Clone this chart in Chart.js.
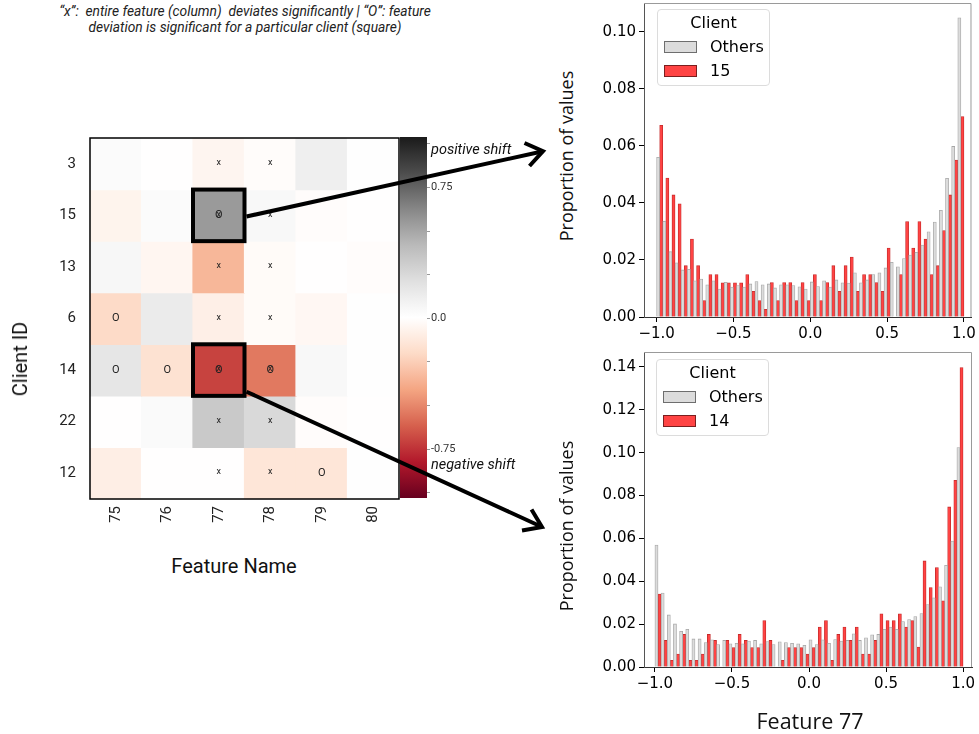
<!DOCTYPE html>
<html>
<head>
<meta charset="utf-8">
<script src="https://cdn.jsdelivr.net/npm/chart.js@4.4.1/dist/chart.umd.min.js"></script>
<style>
html,body{margin:0;padding:0;background:#fff;}
body{position:relative;width:979px;height:734px;overflow:hidden;}
canvas{position:absolute;display:block;}
.t{position:absolute;white-space:pre;color:#111;}
.rot{transform:translate(-50%,-50%) rotate(-90deg);}
.ctr{transform:translate(-50%,-50%);}
.legend{position:absolute;border:1px solid #dcdcdc;border-radius:4px;background:rgba(255,255,255,0.85);font-family:'DejaVu Sans';font-size:16px;color:#000;z-index:3;box-sizing:border-box;width:113px;height:77px;}
.legend .ttl{position:absolute;left:0;width:100%;text-align:center;line-height:18px;top:4px;}
.legend .sw{position:absolute;left:6px;width:33px;height:12px;box-sizing:border-box;}
.legend .lab{position:absolute;left:52px;line-height:18px;}
svg{position:absolute;left:0;top:0;z-index:5;pointer-events:none;}
</style>
</head>
<body>
<div class="t" style="left:0;top:3px;width:490px;text-align:center;font:italic 13.8px Roboto;line-height:16px;color:#222;">“x”:  entire feature (column)  deviates significantly | “O”: feature
deviation is significant for a particular client (square)</div>

<canvas id="heat" width="400" height="540" style="left:0;top:0;"></canvas>
<canvas id="cbar" width="60" height="510" style="left:400px;top:0;"></canvas>
<canvas id="histTop" width="399" height="354" style="left:580px;top:-9px;"></canvas>
<canvas id="histBot" width="399" height="370" style="left:580px;top:340px;"></canvas>

<div class="t rot" style="left:20px;top:359px;font:20px Roboto;color:#111;">Client ID</div>
<div class="t ctr" style="left:234px;top:566px;font:20px Roboto;color:#111;">Feature Name</div>
<div class="t" style="left:431px;top:141px;font:italic 14.5px Roboto;line-height:18px;color:#111;">positive shift</div>
<div class="t" style="left:431px;top:456px;font:italic 14.5px Roboto;line-height:18px;color:#111;">negative shift</div>
<div class="t rot" style="left:566px;top:156px;font:18px 'Open Sans';color:#111;">Proportion of values</div>
<div class="t rot" style="left:566px;top:526px;font:18px 'Open Sans';color:#111;">Proportion of values</div>
<div class="t ctr" style="left:810px;top:720px;font:21.5px 'Open Sans';color:#111;">Feature 77</div>

<div class="legend" style="left:657px;top:9px;">
  <div class="ttl">Client</div>
  <div class="sw" style="top:31px;background:#dcdcdc;border:1px solid #6e6e6e;"></div>
  <div class="lab" style="top:28px;">Others</div>
  <div class="sw" style="top:55px;background:#ff4444;border:1px solid #7a1f1f;"></div>
  <div class="lab" style="top:52px;" id="legTopClient"></div>
</div>
<div class="legend" style="left:656px;top:359px;">
  <div class="ttl">Client</div>
  <div class="sw" style="top:31px;background:#dcdcdc;border:1px solid #6e6e6e;"></div>
  <div class="lab" style="top:28px;">Others</div>
  <div class="sw" style="top:55px;background:#ff4444;border:1px solid #7a1f1f;"></div>
  <div class="lab" style="top:52px;" id="legBotClient"></div>
</div>

<svg width="979" height="734" viewBox="0 0 979 734">
  <g stroke="#000" stroke-width="4" fill="none" stroke-linecap="butt" stroke-linejoin="miter">
    <line x1="246.5" y1="216.5" x2="542" y2="151.5"/>
    <polyline points="524.5,143 543,151.2 529.5,166"/>
    <line x1="246.5" y1="391.7" x2="541" y2="526.5"/>
    <polyline points="531.5,509.5 542,527 522,530.5"/>
  </g>
</svg>

<script>
// ---------------- data ----------------
const clients  = ['3', '15', '13', '6', '14', '22', '12'];
const features = ['75', '76', '77', '78', '79', '80'];
// mean shift per client (rows) and feature (columns)
const shift3  = [ 0.03,  0.00, -0.05, -0.015,  0.11,  0.01];
const shift15 = [-0.06,  0.03,  0.55,  0.05,  -0.01,  0.00];
const shift13 = [ 0.06, -0.045,-0.34, -0.02,   0.00, -0.01];
const shift6  = [-0.20,  0.14, -0.085,-0.02,  -0.04,  0.01];
const shift14 = [ 0.17, -0.16, -0.70, -0.54,   0.05,  0.01];
const shift22 = [ 0.00,  0.04,  0.34,  0.25,  -0.01,  0.00];
const shift12 = [-0.09,  0.00,  0.00, -0.14,  -0.14,  0.01];
const shiftRows = [shift3, shift15, shift13, shift6, shift14, shift22, shift12];
const featureFlags = ['77', '78'];                       // "x": whole column deviates
const clientFlags  = [['6','75'], ['14','75'], ['14','76'], ['14','77'], ['14','78'], ['15','77'], ['12','79']]; // "O"
const highlighted  = [['15','77'], ['14','77']];
const cbarMin = -1.03, cbarMax = 1.04;
const cbarTicks = [-1, -0.75, -0.5, -0.25, 0, 0.25, 0.5, 0.75, 1];
const cbarLabels = {'0.75': '0.75', '0': '0.0', '-0.75': '-0.75'};

// histogram bins (left edges)
const binEdges = [-1.00,-0.96,-0.92,-0.88,-0.84,-0.80,-0.76,-0.72,-0.68,-0.64,
                  -0.60,-0.56,-0.52,-0.48,-0.44,-0.40,-0.36,-0.32,-0.28,-0.24,
                  -0.20,-0.16,-0.12,-0.08,-0.04, 0.00, 0.04, 0.08, 0.12, 0.16,
                   0.20, 0.24, 0.28, 0.32, 0.36, 0.40, 0.44, 0.48, 0.52, 0.56,
                   0.60, 0.64, 0.68, 0.72, 0.76, 0.80, 0.84, 0.88, 0.92, 0.96];
const othersTop = [0.0560,0.0336,0.0229,0.0190,0.0165,0.0167,0.0127,0.0133,0.0113,0.0127,
                   0.0098,0.0122,0.0105,0.0110,0.0105,0.0116,0.0124,0.0113,0.0116,0.0102,
                   0.0113,0.0113,0.0110,0.0106,0.0098,0.0123,0.0107,0.0127,0.0105,0.0130,
                   0.0120,0.0119,0.0155,0.0120,0.0130,0.0149,0.0155,0.0172,0.0192,0.0176,
                   0.0205,0.0217,0.0227,0.0252,0.0299,0.0333,0.0374,0.0486,0.0598,0.1049];
const client15  = [0.0672,0.0487,0.0428,0.0397,0.0180,0.0273,0.0180,0.0058,0.0149,0.0149,
                   0.0120,0.0120,0.0120,0.0120,0.0149,0.0090,0.0058,0.0027,0.0121,0.0058,
                   0.0121,0.0121,0.0058,0.0121,0.0058,0.0149,0.0058,0.0121,0.0180,0.0090,
                   0.0180,0.0210,0.0090,0.0149,0.0149,0.0121,0.0090,0.0242,0.0000,0.0149,
                   0.0335,0.0242,0.0335,0.0273,0.0149,0.0180,0.0303,0.0428,0.0550,0.0703];
const othersBot = [0.0569,0.0345,0.0243,0.0201,0.0167,0.0176,0.0131,0.0131,0.0114,0.0127,
                   0.0105,0.0124,0.0108,0.0111,0.0108,0.0121,0.0124,0.0108,0.0119,0.0105,
                   0.0118,0.0114,0.0111,0.0108,0.0101,0.0127,0.0105,0.0127,0.0111,0.0128,
                   0.0121,0.0124,0.0155,0.0124,0.0136,0.0150,0.0152,0.0176,0.0186,0.0176,
                   0.0212,0.0221,0.0235,0.0249,0.0291,0.0323,0.0374,0.0475,0.0588,0.1024];
const client14  = [0.0340,0.0124,0.0031,0.0060,0.0152,0.0031,0.0031,0.0060,0.0152,0.0124,
                   0.0000,0.0124,0.0091,0.0152,0.0124,0.0091,0.0091,0.0217,0.0124,0.0000,
                   0.0031,0.0091,0.0091,0.0091,0.0060,0.0091,0.0186,0.0217,0.0031,0.0152,
                   0.0186,0.0124,0.0186,0.0060,0.0060,0.0124,0.0248,0.0217,0.0217,0.0248,
                   0.0186,0.0217,0.0093,0.0495,0.0371,0.0464,0.0309,0.0747,0.0871,0.1397];
const histXTicks   = [-1, -0.5, 0, 0.5, 1];
const histYTicksTop = [0, 0.02, 0.04, 0.06, 0.08, 0.10];
const histYTicksBot = [0, 0.02, 0.04, 0.06, 0.08, 0.10, 0.12, 0.14];
const topClient = '15', botClient = '14';

document.getElementById('legTopClient').textContent = topClient;
document.getElementById('legBotClient').textContent = botClient;

// ---------------- colour map (RdGy) ----------------
const rdgyStops = [[103,0,31],[178,24,43],[214,96,77],[244,165,130],[253,219,199],[255,255,255],
                   [224,224,224],[186,186,186],[135,135,135],[77,77,77],[26,26,26]];
function rdgy(t) {
  t = Math.max(0, Math.min(1, t));
  const p = t * 10, i = Math.min(9, Math.floor(p)), f = p - i;
  const a = rdgyStops[i], b = rdgyStops[i + 1];
  const c = a.map((v, k) => Math.round(v + (b[k] - v) * f));
  return `rgb(${c[0]},${c[1]},${c[2]})`;
}
const shiftColor = v => rdgy((v - cbarMin) / (cbarMax - cbarMin));

Chart.defaults.animation = false;
Chart.defaults.font.family = 'DejaVu Sans';
Chart.defaults.color = '#000';

// ---------------- heatmap ----------------
const heatOverlay = {
  id: 'heatOverlay',
  afterDatasetsDraw(chart) {
    const {ctx, chartArea: a, scales: {x, y}} = chart;
    const cw = x.getPixelForValue(1) - x.getPixelForValue(0);
    const ch = Math.abs(y.getPixelForValue(1) - y.getPixelForValue(0));
    ctx.save();
    ctx.fillStyle = '#222';
    ctx.textAlign = 'center';
    ctx.textBaseline = 'middle';
    clients.forEach((c, r) => {
      features.forEach((f, ci) => {
        const px = x.getPixelForValue(ci), py = y.getPixelForValue(r);
        if (featureFlags.includes(f)) { ctx.font = '9px Roboto'; ctx.fillText('x', px, py - 1); }
        if (clientFlags.some(([cc, ff]) => cc === c && ff === f)) { ctx.font = '11px Roboto'; ctx.fillText('O', px, py); }
      });
    });
    ctx.strokeStyle = '#000';
    ctx.lineWidth = 1.5;
    ctx.strokeRect(a.left, a.top, a.width, a.height);
    ctx.lineWidth = 4;
    highlighted.forEach(([c, f]) => {
      const r = clients.indexOf(c), ci = features.indexOf(f);
      const px = x.getPixelForValue(ci), py = y.getPixelForValue(r);
      ctx.strokeRect(px - cw / 2, py - ch / 2, cw, ch);
    });
    ctx.restore();
  }
};

new Chart(document.getElementById('heat'), {
  type: 'bar',
  data: {
    labels: features,
    datasets: shiftRows.map((row, r) => ({
      label: clients[r],
      data: features.map(() => [r - 0.5, r + 0.5]),
      backgroundColor: row.map(shiftColor),
      borderWidth: 0,
      grouped: false,
      barPercentage: 1,
      categoryPercentage: 1,
      inflateAmount: 0.6
    }))
  },
  options: {
    responsive: false,
    layout: {padding: {left: 0, top: 138, right: 1, bottom: 0}},
    plugins: {legend: {display: false}, tooltip: {enabled: false}},
    scales: {
      x: {
        type: 'category', offset: true,
        grid: {display: false, drawTicks: false}, border: {display: false},
        ticks: {minRotation: 90, maxRotation: 90, padding: 7, autoSkip: false,
                font: {family: 'Roboto', size: 15}, color: '#222'},
        afterFit(s) { s.height = 41; }
      },
      y: {
        type: 'linear', min: -0.5, max: 6.5, reverse: true,
        afterBuildTicks(s) { s.ticks = clients.map((c, i) => ({value: i})); },
        grid: {display: false, drawTicks: false}, border: {display: false},
        ticks: {callback: v => clients[v], padding: 14, autoSkip: false,
                font: {family: 'Roboto', size: 15}, color: '#222'},
        afterFit(s) { s.width = 90; }
      }
    }
  },
  plugins: [heatOverlay]
});

// ---------------- colour bar ----------------
new Chart(document.getElementById('cbar'), {
  type: 'bar',
  data: {
    labels: [''],
    datasets: [{
      data: [[cbarMin, cbarMax]],
      backgroundColor(ctx) {
        const area = ctx.chart.chartArea;
        if (!area) return '#fff';
        const g = ctx.chart.ctx.createLinearGradient(0, area.bottom, 0, area.top);
        for (let i = 0; i <= 20; i++) g.addColorStop(i / 20, rdgy(i / 20));
        return g;
      },
      borderWidth: 0, barPercentage: 1, categoryPercentage: 1
    }]
  },
  options: {
    responsive: false,
    layout: {padding: {left: 0, top: 137, right: 0, bottom: 12}},
    plugins: {legend: {display: false}, tooltip: {enabled: false}},
    scales: {
      x: {display: false, offset: true},
      y: {
        position: 'right', min: cbarMin, max: cbarMax,
        afterBuildTicks(s) { s.ticks = cbarTicks.map(v => ({value: v})); },
        grid: {drawOnChartArea: false, drawTicks: true, tickLength: 3, color: '#999'},
        border: {display: false},
        ticks: {callback: v => cbarLabels[String(v)] || '', padding: 1, autoSkip: false,
                font: {family: 'Roboto', size: 11}, color: '#333'},
        afterFit(s) { s.width = 33; }
      }
    }
  }
});

// ---------------- histograms ----------------
const histFrame = {
  id: 'histFrame',
  afterDatasetsDraw(chart) {
    const {ctx, chartArea: a} = chart;
    ctx.save();
    ctx.strokeStyle = '#9a9a9a';
    ctx.lineWidth = 1;
    ctx.beginPath();
    ctx.moveTo(a.left, a.top + 0.5); ctx.lineTo(a.right - 0.5, a.top + 0.5); ctx.lineTo(a.right - 0.5, a.bottom);
    ctx.stroke();
    ctx.restore();
  }
};
const fmtX = v => (v < 0 ? '\u2212' : '') + Math.abs(v).toFixed(1);

function makeHist(id, others, client, cfg) {
  return new Chart(document.getElementById(id), {
    type: 'bar',
    data: {
      datasets: [
        {label: 'Others', data: binEdges.map((e, i) => ({x: e + 0.01, y: others[i]})),
         backgroundColor: '#dcdcdc', borderColor: '#a6a6a6', borderWidth: 0.8,
         grouped: false, barPercentage: 1, categoryPercentage: 1},
        {label: cfg.client, data: binEdges.map((e, i) => ({x: e + 0.03, y: client[i]})),
         backgroundColor: '#ff4343', borderColor: '#c42a2a', borderWidth: 0.8,
         grouped: false, barPercentage: 1, categoryPercentage: 1}
      ]
    },
    options: {
      responsive: false,
      layout: {padding: cfg.padding},
      plugins: {legend: {display: false}, tooltip: {enabled: false}},
      scales: {
        x: {
          type: 'linear', min: cfg.xMin, max: cfg.xMax, offset: false,
          afterBuildTicks(s) { s.ticks = histXTicks.map(v => ({value: v})); },
          grid: {offset: false, drawOnChartArea: false, drawTicks: true, tickLength: 5, color: '#000'},
          border: {display: true, color: '#333', width: 1},
          ticks: {callback: fmtX, padding: 3, maxRotation: 0, autoSkip: false,
                  font: {family: 'DejaVu Sans', size: 15}, color: '#000'},
          afterFit(s) { s.height = cfg.xHeight; }
        },
        y: {
          type: 'linear', min: 0, max: cfg.yMax,
          afterBuildTicks(s) { s.ticks = cfg.yTicks.map(v => ({value: v})); },
          grid: {offset: false, drawOnChartArea: false, drawTicks: true, tickLength: 5, color: '#000'},
          border: {display: true, color: '#555', width: 1},
          ticks: {callback: v => v.toFixed(2), padding: 3, autoSkip: false,
                  font: {family: 'DejaVu Sans', size: 15}, color: '#000'},
          afterFit(s) { s.width = 64; }
        }
      }
    },
    plugins: [histFrame]
  });
}

makeHist('histTop', othersTop, client15, {
  client: topClient, xMin: -1.082, xMax: 1.049, yMax: 0.1101, yTicks: histYTicksTop,
  padding: {left: 0, top: 10, right: 5, bottom: 0}, xHeight: 28
});
makeHist('histBot', othersBot, client14, {
  client: botClient, xMin: -1.071, xMax: 1.058, yMax: 0.147, yTicks: histYTicksBot,
  padding: {left: 0, top: 10, right: 7, bottom: 0}, xHeight: 43
});
</script>
</body>
</html>
